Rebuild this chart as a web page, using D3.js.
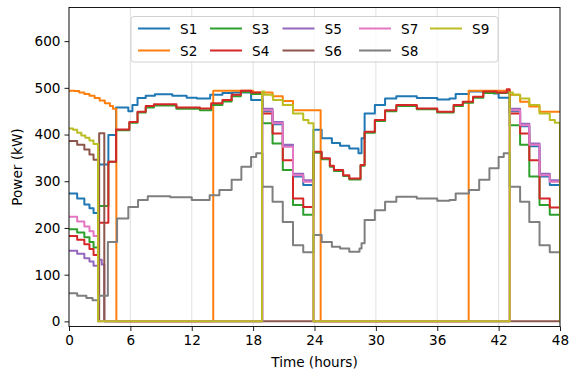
<!DOCTYPE html>
<html>
<head>
<meta charset="utf-8">
<script src="https://cdn.jsdelivr.net/npm/d3@7"></script>
<style>
  body { margin: 0; background: #fff; }
  svg { display: block; font-family: "DejaVu Sans", sans-serif; }
</style>
</head>
<body>
<div id="chart"></div>
<script>
// series as [time (h), power (kW)] breakpoints, drawn as steps
const S1 = [[0,274],[0.8,263],[1.5,250],[2.0,242],[2.4,232],[2.93,336],[3.85,399],[4.6,458],[5.8,450],[6.2,463],[6.7,478],[7.5,483],[8.4,486],[10.1,483],[11.5,479],[12.5,477],[13.8,485],[15,489],[16,490],[17.8,474],[18.9,450],[19.9,422],[20.9,376],[21.9,310],[22.9,292],[23.9,410],[24.7,392],[25.7,382],[26.5,376],[27.4,370],[28.3,360],[28.6,392],[28.9,445],[29.9,463],[30.9,477],[32,482],[34,478],[36,475],[37.2,477],[37.8,487],[39.1,492],[41.5,488],[42.0,479],[43.08,450],[44.1,418],[45,375],[46,310],[47,292],[48,292]];
const S2 = [[0,494],[0.5,493],[1,490],[1.5,487],[2,483],[2.5,478],[3,473],[3.5,467],[4,461],[4.3,455],[4.63,0],[14.1,494],[18,490],[19.9,482],[20.9,472],[21.9,452],[24.6,0],[39.07,494],[43.1,485],[44.1,470],[45,460],[46,449],[48,449]];
const S3 = [[0,197],[0.8,190],[1.5,180],[2.0,170],[2.4,158],[2.93,247],[3.85,342],[4.6,409],[5.9,425],[6.7,447],[7.5,458],[8.3,462],[10.5,455],[12.8,452],[13.9,463],[15,471],[15.9,482],[16.8,491],[17.8,487],[18.9,424],[19.9,381],[20.9,324],[21.9,249],[22.9,228],[23.9,361],[24.7,347],[25.5,331],[25.9,322],[26.8,311],[27.4,304],[28.5,333],[28.9,404],[29.9,429],[30.9,450],[32,461],[34,454],[36,447],[37.2,447],[37.6,461],[38.5,468],[39.5,479],[40.5,489],[42.8,490],[43.08,420],[44.1,378],[45,310],[46,249],[47,228],[48,228]];
const S4 = [[0,183],[0.8,175],[1.5,165],[2.0,155],[2.4,142],[2.93,211],[3.85,342],[4.6,411],[5.9,427],[6.7,449],[7.5,461],[8.3,465],[10.5,458],[12.8,456],[13.9,467],[15,474],[15.9,485],[16.8,494],[17.8,490],[18.9,445],[19.9,402],[20.9,345],[21.9,263],[22.9,245],[23.9,363],[24.7,349],[25.5,333],[25.9,324],[26.8,313],[27.4,306],[28.5,335],[28.9,406],[29.9,431],[30.9,452],[32,463],[34,456],[36,449],[37.2,449],[37.6,463],[38.5,470],[39.5,481],[40.5,492],[41.8,490],[42.8,497],[43.08,445],[44.1,402],[45,345],[46,263],[47,244],[48,244]];
const S5 = [[0,151],[0.8,145],[1.5,135],[2.0,128],[2.4,119],[2.93,132],[3.2,122],[3.45,0],[18.9,455],[19.9,427],[20.9,378],[21.9,316],[22.9,302],[23.9,0],[43.08,455],[44.1,423],[45,381],[46,316],[47,302],[48,302]];
const S6 = [[0,386],[0.8,378],[1.5,368],[2.0,357],[2.4,346],[2.85,0],[2.95,403],[3.45,0],[48,0]];
const S7 = [[0,224],[0.8,214],[1.5,203],[2.0,193],[2.4,183],[2.84,0],[18.9,452],[19.9,424],[20.9,374],[21.9,313],[22.9,299],[23.9,0],[43.08,452],[44.1,420],[45,378],[46,313],[47,299],[48,299]];
const S8 = [[0,60],[0.8,55],[1.7,50],[2.3,45],[2.93,55],[3.8,170],[4.7,220],[5.8,245],[6.75,260],[7.7,268],[9.9,266],[12,260],[13.75,270],[14.7,281],[15.9,303],[16.85,331],[17.8,352],[18.3,360],[18.9,288],[19.9,256],[20.9,213],[21.9,163],[22.9,148],[23.9,185],[24.7,170],[25.7,160],[26.5,156],[27.4,149],[28.4,156],[28.6,167],[28.9,217],[29.9,238],[30.9,256],[32,267],[34,263],[36,258],[37.2,260],[37.8,274],[39.1,281],[40.1,303],[41.1,328],[42,352],[42.5,360],[43.08,288],[44.1,256],[45,213],[46,163],[47,148],[48,148]];
const S9 = [[0,413],[0.4,410],[0.8,404],[1.2,398],[1.6,393],[2.0,387],[2.4,380],[2.84,0],[18.87,492],[19.1,485],[19.95,474],[20.9,463],[21.9,445],[22.9,431],[23.4,424],[23.9,0],[43.08,490],[43.4,485],[44.1,477],[45,463],[46,445],[47,431],[47.5,425],[48,0]];

const names = ["S1","S2","S3","S4","S5","S6","S7","S8","S9"];
const seriesData = [S1,S2,S3,S4,S5,S6,S7,S8,S9];
const colors = ["#1f77b4","#ff7f0e","#2ca02c","#d62728","#9467bd","#8c564b","#e377c2","#7f7f7f","#bcbd22"];
const xTicks = [0,6,12,18,24,30,36,42,48];
const yTicks = [0,100,200,300,400,500,600];

const W = 569, H = 371;
const margin = {top: 7.5, right: 9, bottom: 44.5, left: 69};
const fontSize = 13.6;

const svg = d3.select("#chart").append("svg")
  .attr("width", W).attr("height", H);

const x = d3.scaleLinear().domain([0, 48]).range([margin.left, W - margin.right]);
const y = d3.scaleLinear().domain([-11, 672]).range([H - margin.bottom, margin.top]);

// vertical grid
svg.append("g").selectAll("line")
  .data(xTicks).enter().append("line")
  .attr("x1", d => x(d)).attr("x2", d => x(d))
  .attr("y1", margin.top).attr("y2", H - margin.bottom)
  .attr("stroke", "#dedede").attr("stroke-width", 0.9);

// lines
svg.append("clipPath").attr("id", "clip").append("rect")
  .attr("x", margin.left).attr("y", margin.top)
  .attr("width", W - margin.left - margin.right)
  .attr("height", H - margin.top - margin.bottom);

const line = d3.line()
  .x(d => x(d[0])).y(d => y(d[1]))
  .curve(d3.curveStepAfter);

svg.append("g").attr("clip-path", "url(#clip)")
  .selectAll("path")
  .data(seriesData).enter().append("path")
  .attr("d", line)
  .attr("fill", "none")
  .attr("stroke", (d, i) => colors[i])
  .attr("stroke-width", 2)
  .attr("stroke-linejoin", "round");

// axes
const xAxis = svg.append("g")
  .attr("transform", `translate(0,${H - margin.bottom})`)
  .call(d3.axisBottom(x).tickValues(xTicks).tickSize(4.5).tickPadding(4));
const yAxis = svg.append("g")
  .attr("transform", `translate(${margin.left},0)`)
  .call(d3.axisLeft(y).tickValues(yTicks).tickSize(4.5).tickPadding(4));

[xAxis, yAxis].forEach(a => {
  a.select(".domain").remove();
  a.selectAll("line").attr("stroke", "#000").attr("stroke-width", 0.9);
  a.selectAll("text").attr("font-size", fontSize).attr("fill", "#000")
    .attr("font-family", "DejaVu Sans");
});

// frame
svg.append("rect")
  .attr("x", margin.left).attr("y", margin.top)
  .attr("width", W - margin.left - margin.right)
  .attr("height", H - margin.top - margin.bottom)
  .attr("fill", "none").attr("stroke", "#000").attr("stroke-width", 0.9);

// labels
svg.append("text")
  .attr("x", (margin.left + W - margin.right) / 2).attr("y", 367)
  .attr("text-anchor", "middle").attr("font-size", fontSize)
  .text("Time (hours)");
svg.append("text")
  .attr("transform", `translate(22,${(margin.top + H - margin.bottom) / 2}) rotate(-90)`)
  .attr("text-anchor", "middle").attr("font-size", fontSize)
  .text("Power (kW)");

// legend
const lg = svg.append("g");
lg.append("rect")
  .attr("x", 131).attr("y", 16.5).attr("width", 367).attr("height", 45.5)
  .attr("rx", 3).attr("fill", "#fff").attr("fill-opacity", 0.8)
  .attr("stroke", "#cccccc").attr("stroke-width", 0.9);

const colX = [138, 210, 282.5, 359, 430];
names.forEach((n, i) => {
  const cx = colX[Math.floor(i / 2)];
  const cy = i % 2 === 0 ? 28.5 : 50.5;
  lg.append("line")
    .attr("x1", cx).attr("x2", cx + 32)
    .attr("y1", cy).attr("y2", cy)
    .attr("stroke", colors[i]).attr("stroke-width", 2);
  lg.append("text")
    .attr("x", cx + 42).attr("y", cy + 5)
    .attr("font-size", fontSize)
    .text(n);
});
</script>
</body>
</html>
